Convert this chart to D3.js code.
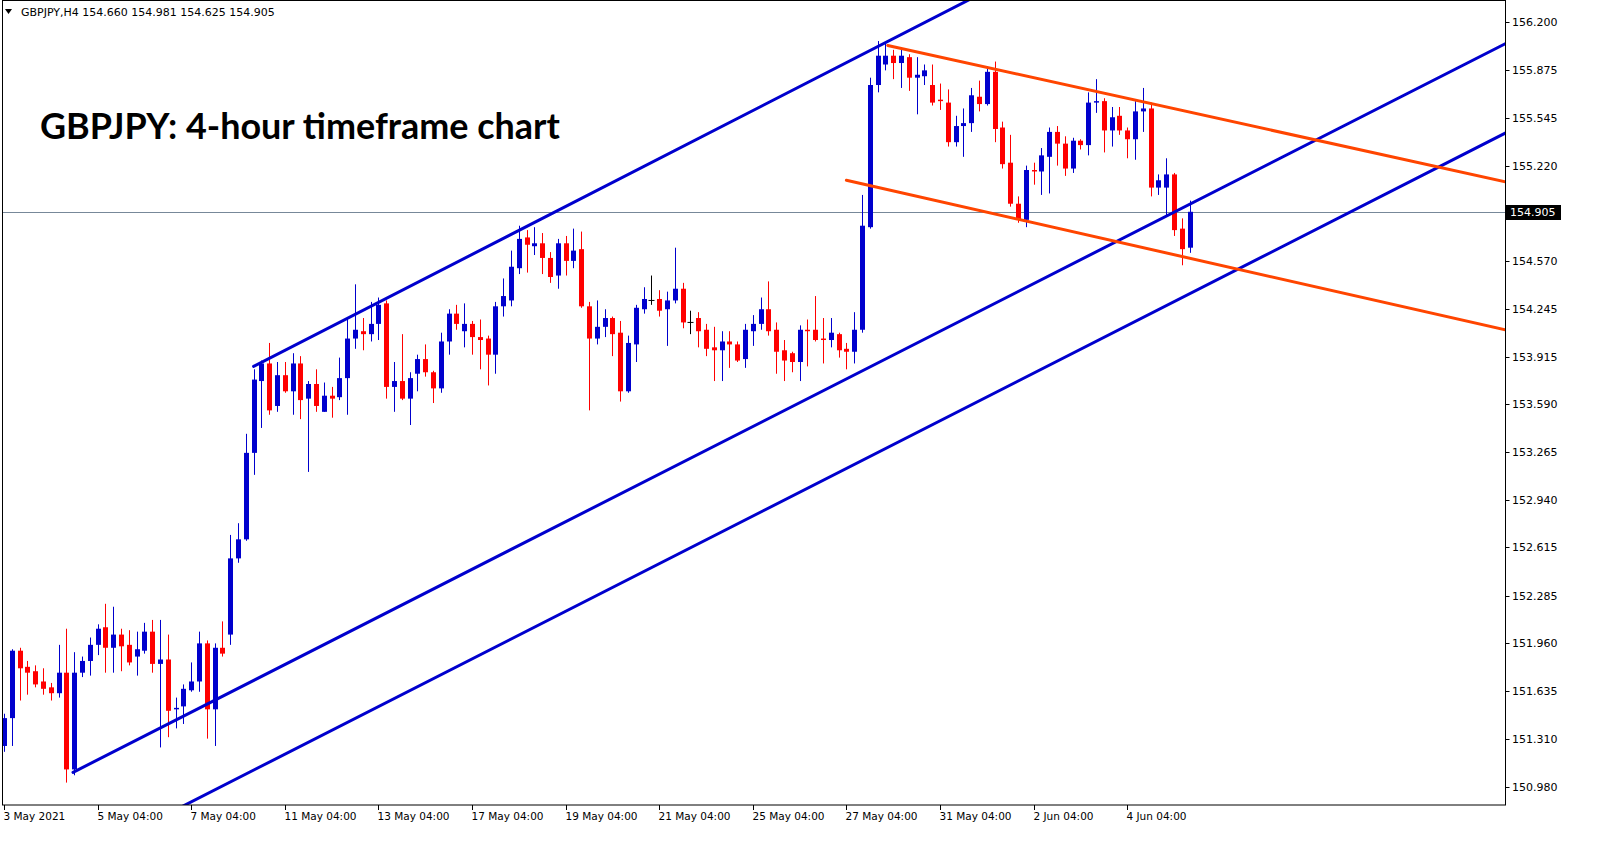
<!DOCTYPE html>
<html>
<head>
<meta charset="utf-8">
<script src="https://cdn.jsdelivr.net/npm/d3@7"></script>
<style>
html,body{margin:0;padding:0;background:#fff;}
svg{display:block;}
</style>
</head>
<body>
<svg id="chart" width="1607" height="850"></svg>
<script>
// ---- DATA (GBPJPY H4) ----
const openP = [
151.26,151.45,151.91,151.80,151.77,151.70,151.66,151.62,151.76,151.10,
151.76,151.84,151.95,152.07,151.93,152.02,151.95,151.87,151.91,152.04,
151.82,151.85,151.51,151.53,151.64,151.70,151.96,151.51,151.93,152.02,
152.54,152.67,153.26,153.75,153.87,153.58,153.79,153.68,153.87,153.63,
153.73,153.54,153.65,153.64,153.77,154.04,154.09,154.07,154.14,154.28,
153.71,153.75,153.63,153.80,153.90,153.81,153.70,154.02,154.21,154.09,
154.14,154.05,154.04,153.93,154.26,154.30,154.52,154.73,154.67,154.69,
154.59,154.47,154.69,154.57,154.65,154.26,154.04,154.12,154.18,154.08,
153.68,154.00,154.24,154.30,154.31,154.24,154.30,154.38,154.15,154.18,
154.10,153.98,153.96,154.02,154.00,153.90,154.09,154.14,154.24,154.10,
153.96,153.94,153.88,154.10,154.10,154.04,154.03,154.07,153.97,153.95,
154.10,154.80,155.77,155.91,155.97,155.92,155.96,155.82,155.83,155.77,
155.67,155.65,155.38,155.49,155.51,155.69,155.64,155.86,155.48,155.24,
154.96,154.85,155.19,155.18,155.28,155.45,155.37,155.20,155.39,155.36,
155.65,155.66,155.46,155.56,155.46,155.40,155.59,155.61,155.07,155.07,
155.16,154.79,154.660];
const highP = [
151.48,151.92,151.93,151.84,151.81,151.79,151.69,151.95,152.06,151.90,
151.87,152.00,152.09,152.23,152.21,152.06,152.05,152.04,152.10,152.12,
152.12,152.02,151.59,151.68,151.83,152.04,151.98,151.96,152.11,152.70,
152.78,153.39,153.83,153.89,154.01,153.88,153.88,153.94,153.92,153.75,
153.83,153.74,153.71,153.91,154.18,154.41,154.18,154.29,154.32,154.30,
153.88,154.07,153.81,153.93,154.00,153.82,154.08,154.24,154.27,154.28,
154.16,154.17,154.06,154.29,154.45,154.64,154.81,154.78,154.80,154.76,
154.63,154.72,154.74,154.79,154.77,154.29,154.30,154.24,154.19,154.16,
154.06,154.27,154.39,154.47,154.37,154.36,154.66,154.42,154.23,154.22,
154.14,154.12,154.09,154.09,154.02,154.14,154.20,154.32,154.43,154.15,
154.03,153.95,154.13,154.17,154.33,154.18,154.18,154.08,154.01,154.22,
155.02,155.82,156.07,156.05,156.01,156.01,155.98,155.96,155.91,155.91,
155.78,155.74,155.56,155.61,155.75,155.80,155.89,155.93,155.52,155.43,
155.01,155.22,155.24,155.34,155.48,155.49,155.42,155.41,155.40,155.72,
155.81,155.68,155.62,155.62,155.48,155.66,155.75,155.65,155.16,155.27,
155.17,154.86,154.981];
const lowP = [
151.22,151.26,151.57,151.61,151.66,151.61,151.57,151.59,151.01,151.06,
151.73,151.74,151.88,151.76,151.76,151.77,151.81,151.74,151.89,151.76,
151.25,151.32,151.38,151.41,151.63,151.63,151.31,151.26,151.87,151.95,
152.51,152.66,153.11,153.43,153.52,153.54,153.67,153.52,153.49,153.13,
153.54,153.54,153.50,153.62,153.52,153.97,153.96,154.02,154.03,153.63,
153.54,153.62,153.45,153.68,153.78,153.60,153.67,153.93,154.10,153.98,
153.93,153.83,153.72,153.80,154.19,154.26,154.48,154.49,154.61,154.48,
154.42,154.38,154.47,154.52,154.25,153.55,154.00,154.05,153.92,153.61,
153.67,153.88,154.21,154.27,154.19,153.99,154.28,154.11,154.07,153.98,
153.92,153.75,153.75,153.84,153.88,153.84,153.99,154.10,154.06,153.80,
153.75,153.81,153.75,153.85,154.02,153.87,153.98,153.91,153.83,153.87,
154.08,154.79,155.72,155.87,155.81,155.75,155.73,155.57,155.77,155.63,
155.60,155.35,155.35,155.28,155.45,155.59,155.63,155.38,155.20,154.94,
154.83,154.80,155.09,155.02,155.03,155.22,155.15,155.17,155.33,155.29,
155.58,155.31,155.35,155.43,155.27,155.26,155.45,155.01,155.02,154.88,
154.74,154.54,154.625];
const closeP = [
151.45,151.91,151.79,151.76,151.68,151.65,151.62,151.76,151.10,151.76,
151.84,151.95,152.06,151.93,152.02,151.94,151.83,151.92,152.04,151.82,
151.85,151.50,151.52,151.65,151.70,151.96,151.51,151.93,151.89,152.54,
152.67,153.26,153.76,153.87,153.55,153.79,153.68,153.87,153.62,153.73,
153.58,153.65,153.63,153.77,154.04,154.10,154.07,154.14,154.27,153.71,
153.75,153.63,153.77,153.90,153.81,153.70,154.02,154.21,154.14,154.14,
154.05,154.03,153.93,154.26,154.33,154.53,154.72,154.68,154.69,154.59,
154.46,154.69,154.57,154.64,154.26,154.04,154.12,154.18,154.07,153.68,
154.01,154.25,154.31,154.30,154.23,154.30,154.38,154.15,154.15,154.09,
153.97,153.96,154.02,154.00,153.89,154.10,154.14,154.24,154.09,153.95,
153.89,153.88,154.10,154.09,154.03,154.03,154.08,153.96,153.95,154.10,
154.81,155.77,155.97,155.97,155.92,155.97,155.82,155.84,155.87,155.65,
155.66,155.38,155.49,155.51,155.70,155.64,155.86,155.47,155.23,154.96,
154.85,155.19,155.18,155.29,155.45,155.37,155.20,155.39,155.36,155.65,
155.66,155.46,155.55,155.46,155.40,155.59,155.61,155.07,155.12,155.16,
154.78,154.65,154.905];

const priceTicks = [156.200,155.875,155.545,155.220,154.895,154.570,154.245,153.915,153.590,153.265,152.940,152.615,152.285,151.960,151.635,151.310,150.980];
const dateLabels = ["3 May 2021","5 May 04:00","7 May 04:00","11 May 04:00","13 May 04:00","17 May 04:00","19 May 04:00","21 May 04:00","25 May 04:00","27 May 04:00","31 May 04:00","2 Jun 04:00","4 Jun 04:00"];
const dateIndex = [0,12,24,36,48,60,72,84,96,108,120,132,144];

// trend lines: [barIndex1, price1, barIndex2, price2]
const blueLines = [
  [32, 153.85, 112.3, 156.04],
  [8.85, 151.08, 192.4, 156.05],
  [20, 150.77, 192.4, 155.44]
];
const orangeLines = [
  [113.3, 156.04, 192.4, 155.11],
  [108, 155.12, 192.4, 154.10]
];
const lastPrice = 154.905;
const symbolText = "GBPJPY,H4  154.660 154.981 154.625 154.905";
const titleText = "GBPJPY: 4-hour timeframe chart";

// ---- LAYOUT ----
const plotL = 2, plotR = 1505, plotT = 0.5, plotB = 805;
const svg = d3.select("#chart");
const x = d3.scaleLinear().domain([0, 192.44]).range([4, 1505]);
const y = d3.scaleLinear().domain([150.98, 156.2]).range([787, 22]);

const BLUE = "#0000CD", RED = "#FF0000", ORANGE = "#FF4500";

svg.append("rect").attr("width",1607).attr("height",850).attr("fill","#fff");

svg.append("defs").append("clipPath").attr("id","plotclip")
  .append("rect").attr("x",plotL).attr("y",plotT).attr("width",plotR-plotL).attr("height",plotB-plotT);

const plot = svg.append("g").attr("clip-path","url(#plotclip)");

// current price line
plot.append("line")
  .attr("x1",plotL).attr("x2",plotR)
  .attr("y1",Math.round(y(lastPrice))+0.5).attr("y2",Math.round(y(lastPrice))+0.5)
  .attr("stroke","#778899").attr("stroke-width",1);

// candles
const data = openP.map((o,i)=>({i,o,h:highP[i],l:lowP[i],c:closeP[i]}));
const cg = plot.append("g");
data.forEach(d=>{
  const cx = Math.round(x(d.i))+0.5;
  const col = d.c > d.o ? BLUE : (d.c < d.o ? RED : "#000");
  cg.append("line").attr("x1",cx).attr("x2",cx)
    .attr("y1",y(d.h)).attr("y2",y(d.l))
    .attr("stroke",col).attr("stroke-width",1);
  if (d.c === d.o) {
    cg.append("line").attr("x1",cx-3).attr("x2",cx+3)
      .attr("y1",y(d.o)).attr("y2",y(d.o))
      .attr("stroke","#000").attr("stroke-width",1);
  } else {
    const top = y(Math.max(d.o,d.c)), bot = y(Math.min(d.o,d.c));
    cg.append("rect").attr("x",cx-2.5).attr("width",5)
      .attr("y",top).attr("height",Math.max(1,bot-top))
      .attr("fill",col);
  }
});

// trend lines (rays to the right edge)
function drawRay(L, color){
  const [i1,p1,i2,p2] = L;
  const slope = (p2-p1)/(i2-i1);
  const iEnd = x.invert(plotR+5);
  plot.append("line")
    .attr("x1",x(i1)).attr("y1",y(p1))
    .attr("x2",x(iEnd)).attr("y2",y(p1+slope*(iEnd-i1)))
    .attr("stroke",color).attr("stroke-width",3).attr("stroke-linecap","round");
}
blueLines.forEach(L=>drawRay(L,BLUE));
orangeLines.forEach(L=>drawRay(L,ORANGE));

// frame
svg.append("rect").attr("x",plotL+0.5).attr("y",plotT).attr("width",plotR-plotL).attr("height",plotB-plotT)
  .attr("fill","none").attr("stroke","#000").attr("stroke-width",1);

// price axis
const pa = svg.append("g");
priceTicks.forEach(v=>{
  const yy = Math.round(y(v))+0.5;
  pa.append("line").attr("x1",plotR+0.5).attr("x2",plotR+4.5).attr("y1",yy).attr("y2",yy).attr("stroke","#000");
  pa.append("text").attr("x",1512).attr("y",yy).attr("dy","0.35em")
    .attr("font-family","DejaVu Sans, Verdana, sans-serif").attr("font-size",11).attr("fill","#000").text(v.toFixed(3));
});
// last price label
const ly = Math.round(y(lastPrice))+0.5;
pa.append("rect").attr("x",plotR+1).attr("y",ly-7.5).attr("width",55).attr("height",15).attr("fill","#000");
pa.append("text").attr("x",1510).attr("y",ly).attr("dy","0.35em")
  .attr("font-family","DejaVu Sans, Verdana, sans-serif").attr("font-size",11).attr("fill","#fff").text(lastPrice.toFixed(3));

// time axis
const ta = svg.append("g");
dateIndex.forEach((idx,k)=>{
  const xx = Math.round(x(idx))+0.5;
  ta.append("line").attr("x1",xx).attr("x2",xx).attr("y1",plotB).attr("y2",plotB+5).attr("stroke","#000");
  ta.append("text").attr("x",xx-1).attr("y",816).attr("dy","0.35em")
    .attr("font-family","DejaVu Sans, Verdana, sans-serif").attr("font-size",10.5).attr("fill","#000").text(dateLabels[k]);
});

// header
svg.append("path").attr("d","M5,9 L12,9 L8.5,14 Z").attr("fill","#000");
svg.append("text").attr("x",21).attr("y",12).attr("dy","0.35em")
  .attr("font-family","DejaVu Sans, Verdana, sans-serif").attr("font-size",11).attr("fill","#000").text(symbolText);

// title
const t = svg.append("text").attr("x",40).attr("y",139)
  .attr("font-family","Lato, Open Sans, sans-serif").attr("font-weight","bold")
  .attr("font-size",100).attr("fill","#000").text(titleText);
const w100 = t.node().getComputedTextLength();
t.attr("font-size", 100*520/w100);
</script>
</body>
</html>
